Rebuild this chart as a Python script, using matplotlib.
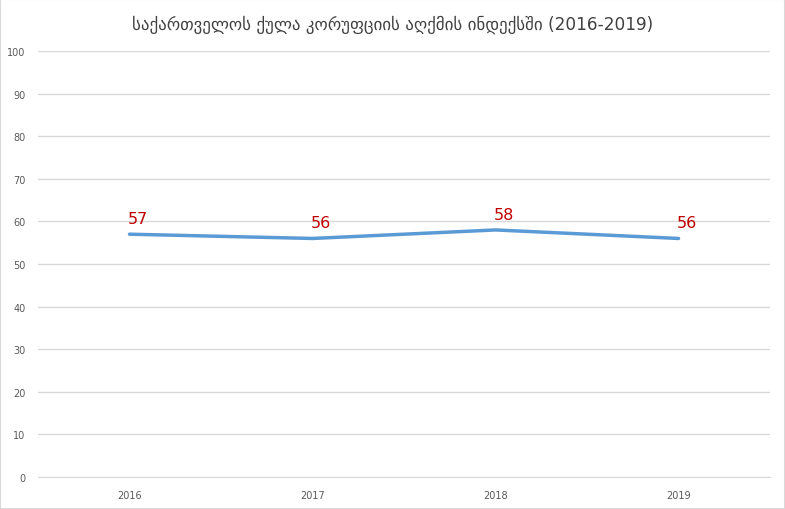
import matplotlib
matplotlib.use("Agg")
import matplotlib.pyplot as plt
from matplotlib.patches import Rectangle

plt.rcParams['font.family'] = ['DejaVu Sans']

years = ['2016', '2017', '2018', '2019']
scores = [57, 56, 58, 56]
title = 'საქართველოს ქულა კორუფციის აღქმის ინდექსში (2016-2019)'

fig = plt.figure(figsize=(7.85, 5.1), dpi=100)
ax = fig.add_axes([0.0484, 0.0627, 0.9326, 0.8353])

x = range(len(years))
ax.plot(x, scores, color='#5B9BD5', linewidth=2.5, solid_capstyle='round')

for xi, v in zip(x, scores):
    ax.annotate(str(v), (xi, v), xytext=(6, 6), textcoords='offset points',
                ha='center', va='bottom', color='#C00000', fontsize=11.5)

ax.set_xlim(-0.5, len(years) - 0.5)
ax.set_ylim(0, 100)
ax.set_yticks(range(0, 101, 10))
ax.set_xticks(list(x))
ax.set_xticklabels(years)
ax.grid(axis='y', color='#D9D9D9', linewidth=1)
ax.set_axisbelow(True)
for s in ['top', 'right', 'left']:
    ax.spines[s].set_visible(False)
ax.spines['bottom'].set_color('#D9D9D9')
ax.tick_params(length=0, colors='#595959', labelsize=7)
ax.tick_params(axis='x', pad=9)
ax.tick_params(axis='y', pad=9)

fig.text(0.5, 0.952, title, ha='center', va='center', fontsize=12.2, color='#404040')
fig.patches.append(Rectangle((0, 0), 1, 1, transform=fig.transFigure,
                             fill=False, edgecolor='#D9D9D9', linewidth=1.5))

fig.savefig('out.png', dpi=100)
